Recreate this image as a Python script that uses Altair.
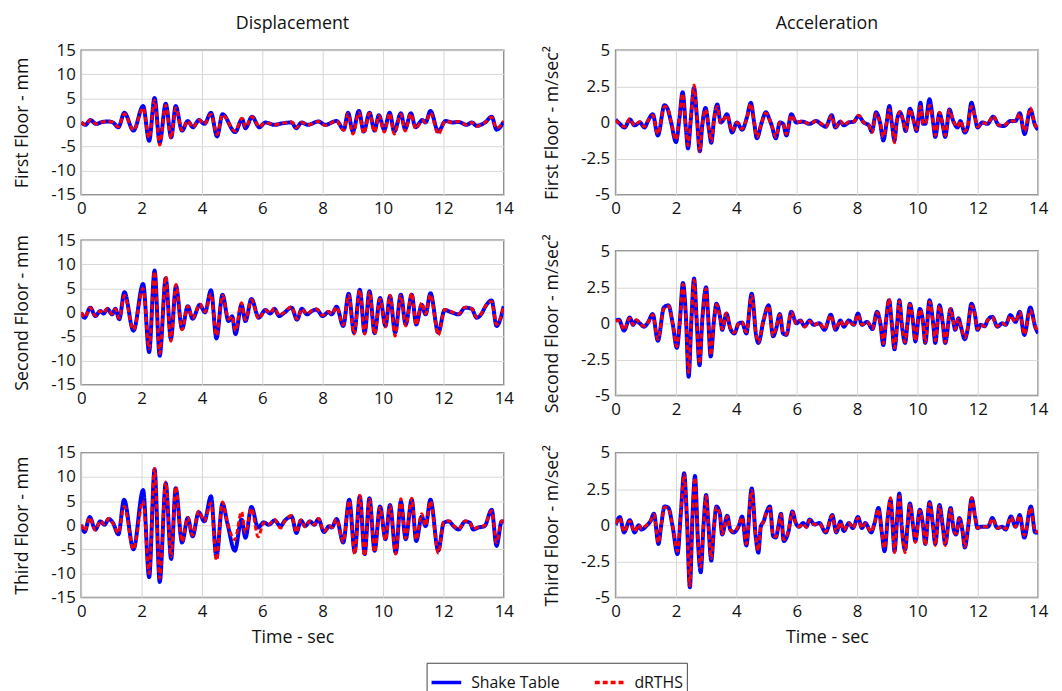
import altair as alt
import pandas as pd

FONT = "Open Sans"
SERIES = ["Shake Table", "dRTHS"]

# ---------------- First floor displacement (mm) ----------------
t_d1 = [0, 0.14, 0.3, 0.5, 0.7, 0.9, 1.05, 1.23, 1.43, 1.73, 2.05, 2.25, 2.43, 2.6, 2.8, 2.98, 3.13, 3.34,
        3.53, 3.7, 3.9, 4.08, 4.3, 4.5, 4.68, 5.1, 5.33, 5.44, 5.66, 5.9, 6.1, 6.4, 6.65, 6.97, 7.12, 7.3,
        7.5, 7.86, 8.08, 8.46, 8.7, 8.84, 9.0, 9.2, 9.36, 9.55, 9.72, 9.86, 10.04, 10.22, 10.37, 10.59,
        10.73, 10.92, 11.08, 11.3, 11.41, 11.57, 11.83, 12.07, 12.3, 12.5, 12.77, 12.94, 13.1, 13.38,
        13.6, 13.76, 14.0]
shake_d1 = [0.0, -0.5, 0.5, -0.3, 0.1, 0.2, 0.0, -1.0, 2.0, -1.7, 3.4, -3.8, 5.1, -4.2, 3.9, -3.1, 3.4, -1.7,
            0.3, -1.0, 0.5, -0.3, 2.0, -2.9, 1.7, -2.0, 0.7, -1.2, 1.2, -1.0, 0.0, -0.5, -0.2, 0.0, -1.2, 0.0,
            -0.5, 0.2, -0.5, 0.3, -1.5, 2.0, -1.9, 2.4, -1.9, 2.0, -1.7, 1.5, -1.5, 2.0, -1.9, 1.9,
            -1.4, 1.9, -1.0, 0.5, 0.0, 2.4, -1.9, 0.3, 0.0, 0.1, -0.5, 0.0, -0.7, 0.0,
            1.2, -1.5, 0.2]
drths_d1 = [0.0, -0.5, 0.5, -0.3, 0.1, 0.2, 0.0, -0.9, 1.8, -1.6, 3.0, -3.2, 4.6, -4.7, 3.6, -3.3, 3.0, -1.6,
            0.3, -1.0, 0.5, -0.3, 1.7, -2.5, 1.6, -1.8, 0.9, -1.0, 1.2, -0.9, 0.0, -0.5, -0.2, 0.1, -1.1, 0.0,
            -0.5, 0.2, -0.6, 0.3, -1.6, 1.8, -2.4, 2.0, -2.3, 1.9, -2.0, 1.4, -2.0, 1.9, -2.4, 1.7,
            -1.8, 1.8, -1.3, 0.4, 0.0, 2.0, -2.4, 0.3, 0.0, 0.2, -0.5, 0.0, -0.8, 0.0,
            1.1, -1.2, 0.3]

# ---------------- First floor acceleration (m/sec^2) ----------------
t_a1 = [0, 0.14, 0.3, 0.47, 0.63, 0.8, 0.96, 1.07, 1.23, 1.4, 1.62, 1.73, 1.84, 2.0, 2.11, 2.22, 2.33, 2.4,
        2.49, 2.6, 2.69, 2.79, 2.87, 2.98, 3.09, 3.17, 3.26, 3.37, 3.48, 3.58, 3.69, 3.86, 4.02, 4.19, 4.35,
        4.48, 4.59, 4.68, 4.84, 4.98, 5.1, 5.17, 5.31, 5.44, 5.55, 5.66, 5.82, 5.99, 6.2, 6.43, 6.64, 6.86,
        6.96, 7.16, 7.28, 7.45, 7.56, 7.73, 7.89, 8.05, 8.22, 8.39, 8.49, 8.63, 8.76, 8.87, 8.98, 9.07,
        9.15, 9.24, 9.31, 9.42, 9.53, 9.61, 9.75, 9.89, 9.97, 10.1, 10.19, 10.26, 10.4, 10.52, 10.59,
        10.73, 10.84, 10.92, 11.06, 11.17, 11.33, 11.42, 11.57, 11.66, 11.79, 11.9, 11.99, 12.15, 12.32,
        12.51, 12.7, 12.86, 13.08, 13.25, 13.39, 13.55, 13.74, 13.9, 14.0]
shake_a1 = [0.2, -0.1, -0.35, 0.2, -0.2, 0.0, -0.35, 0.1, 0.57, -0.9, 1.2, 0.9, 0.0, -1.36, 0.2, 2.1, -0.45, -1.8,
            0.2, 2.4, 0.45, -2.0, -0.2, 1.0, -0.45, -1.4, 0.2, 1.25, 0.0, 0.2, 0.57, -0.7, 0.0, -0.5, 0.35,
            1.36, 0.0, -1.1, 0.0, 0.7, 0.2, -0.2, -1.1, 0.0, -0.1, -0.9, 0.57, 0.0, 0.05, -0.1, 0.1, -0.2,
            -0.3, 0.5, -0.35, 0.05, -0.2, 0.0, 0.05, 0.45, 0.0, -0.2, -0.64, 0.7, 0.0, -1.25, 0.0, 1.14,
            0.0, -1.25, 0.0, 0.7, 0.1, -0.6, 0.95, 0.0, -0.6, 1.36, -0.1, -0.1, 1.6, 0.0, -1.0,
            0.64, -0.2, -1.0, 0.9, 0.2, -0.35, 0.1, -0.7, -0.35, 1.36, 0.45, -0.35, 0.0, -0.1,
            0.4, -0.2, -0.25, 0.1, 0.1, 0.64, -0.8, 0.9, -0.2, -0.5]
drths_a1 = [0.15, -0.1, -0.3, 0.25, -0.2, 0.05, -0.3, 0.1, 0.5, -0.8, 1.1, 0.95, 0.0, -1.2, 0.2, 2.0, -0.4, -1.6,
            0.2, 2.6, 0.4, -2.0, -0.2, 0.9, -0.4, -1.3, 0.2, 1.1, 0.0, 0.2, 0.5, -0.6, 0.0, -0.45, 0.3,
            1.3, 0.0, -1.0, 0.0, 0.65, 0.2, -0.2, -1.0, 0.0, -0.1, -0.8, 0.5, 0.0, 0.1, -0.1, 0.1, -0.15,
            -0.3, 0.45, -0.3, 0.1, -0.2, 0.05, 0.05, 0.5, 0.0, -0.2, -0.7, 0.6, 0.0, -1.0, 0.0, 0.9,
            0.0, -1.4, 0.0, 0.75, 0.1, -0.55, 0.9, 0.0, -0.5, 1.1, -0.1, -0.1, 1.2, 0.0, -0.9,
            0.7, -0.2, -0.9, 0.85, 0.2, -0.3, 0.1, -0.6, -0.3, 1.1, 0.45, -0.3, 0.0, -0.1,
            0.45, -0.2, -0.2, 0.1, 0.1, 0.6, -0.6, 1.0, -0.2, -0.45]

# ---------------- Second floor displacement (mm) ----------------
t_d2 = [0, 0.11, 0.3, 0.47, 0.63, 0.74, 0.87, 1.02, 1.13, 1.26, 1.43, 1.73, 2.05, 2.25, 2.43, 2.6, 2.8, 2.97,
        3.14, 3.34, 3.53, 3.69, 3.93, 4.1, 4.3, 4.48, 4.68, 4.88, 5.0, 5.11, 5.31, 5.44, 5.64, 5.88, 6.1,
        6.26, 6.4, 6.56, 6.7, 6.97, 7.15, 7.31, 7.48, 7.64, 7.8, 8.0, 8.19, 8.3, 8.46, 8.68, 8.86, 9.04,
        9.23, 9.39, 9.55, 9.72, 9.9, 10.08, 10.23, 10.4, 10.59, 10.75, 10.95, 11.1, 11.28, 11.41, 11.57,
        11.83, 12.04, 12.28, 12.5, 12.72, 12.94, 13.1, 13.27, 13.36, 13.6, 13.76, 14.0]
shake_d2 = [0.0, -1.1, 1.0, -0.75, 0.3, -0.2, 0.75, -0.4, 0.75, -1.4, 4.2, -3.8, 5.9, -8.2, 8.7, -9.0, 7.1, -5.5,
            5.5, -3.4, 1.3, -1.3, 1.6, 0.0, 4.6, -5.4, 3.7, -1.8, -0.8, -4.5, 1.6, -1.8, 2.8, -1.1, 0.5,
            -0.2, 0.75, -0.75, -0.2, 1.0, -1.5, 0.75, -0.4, 0.3, 0.6, -0.75, 0.1, -0.4, 1.2, -2.8, 3.9, -4.2,
            4.7, -4.2, 4.4, -4.3, 3.0, -2.8, 3.4, -4.2, 3.7, -2.5, 3.7, -2.5, 1.6, -0.4, 4.0,
            -4.2, 0.5, 0.0, -0.4, 1.0, 0.75, -1.1, -0.2, 0.9, 2.5, -2.8, 1.3]
drths_d2 = [0.0, -1.0, 1.0, -0.7, 0.3, -0.1, 0.8, -0.3, 0.7, -1.2, 3.5, -3.6, 5.0, -7.5, 8.5, -8.5, 7.5, -6.0,
            5.8, -3.6, 1.3, -1.2, 1.7, 0.1, 3.8, -4.8, 3.5, -1.4, -0.8, -3.8, 2.0, -1.5, 2.6, -1.3, 0.5,
            -0.1, 0.9, -0.6, -0.1, 1.2, -1.4, 0.7, -0.3, 0.4, 0.7, -0.6, 0.2, -0.3, 1.1, -2.6, 3.6, -4.5,
            4.6, -4.5, 4.2, -4.5, 2.8, -3.0, 3.6, -4.9, 3.5, -2.8, 4.0, -2.6, 2.0, -0.3, 3.7,
            -4.7, 0.6, 0.1, -0.3, 1.1, 0.8, -1.0, -0.1, 1.0, 2.3, -2.5, 1.4]

# ---------------- Second floor acceleration (m/sec^2) ----------------
t_a2 = [0, 0.11, 0.28, 0.47, 0.58, 0.69, 0.8, 0.94, 1.07, 1.23, 1.4, 1.6, 1.75, 1.89, 2.03, 2.13, 2.23, 2.33,
        2.42, 2.51, 2.6, 2.69, 2.78, 2.87, 3.0, 3.06, 3.15, 3.26, 3.34, 3.48, 3.53, 3.67, 3.8, 3.93, 4.08,
        4.19, 4.33, 4.51, 4.66, 4.73, 4.9, 5.07, 5.22, 5.31, 5.44, 5.55, 5.66, 5.82, 5.99, 6.12, 6.26, 6.43,
        6.56, 6.75, 6.92, 7.13, 7.29, 7.45, 7.56, 7.73, 7.89, 8.03, 8.16, 8.33, 8.51, 8.66, 8.77, 8.87,
        8.95, 9.06, 9.15, 9.24, 9.33, 9.4, 9.48, 9.59, 9.67, 9.75, 9.86, 9.93, 10.08, 10.19, 10.26, 10.4,
        10.52, 10.59, 10.73, 10.84, 10.92, 11.1, 11.2, 11.25, 11.36, 11.44, 11.57, 11.66, 11.79, 11.9,
        11.99, 12.1, 12.23, 12.32, 12.48, 12.65, 12.81, 12.92, 13.08, 13.25, 13.39, 13.54, 13.74, 13.9, 14.0]
shake_a2 = [0.2, 0.25, -0.5, 0.4, -0.1, 0.2, 0.0, -0.23, 0.05, 0.64, -1.2, 1.1, 1.25, 0.0, -1.7, 0.2, 2.8, 0.45,
            -3.7, 0.2, 3.1, 0.0, -2.9, 0.2, 2.5, 0.7, -2.3, 0.2, 1.36, 0.2, -0.45, 0.68, -0.35, -0.7, 0.0,
            0.05, -0.7, 2.05, -0.9, -1.36, 0.2, 1.25, -0.9, -0.45, 0.64, -0.7, -0.8, 0.8, 0.0, 0.2, -0.2, 0.2,
            -0.1, 0.0, -0.45, 0.6, -0.45, 0.2, -0.23, 0.2, -0.1, 0.68, -0.1, 0.1, -0.4, 0.8, 0.0, -1.5,
            0.0, 1.6, 0.0, -1.8, 0.0, 1.6, 0.0, -1.36, 0.0, 1.36, 0.0, -1.25, 1.0, 0.0, -1.36, 1.6,
            0.0, -1.36, 1.25, 0.0, -1.36, 1.0, 0.0, -0.45, 0.35, -0.23, -1.1, -0.45, 1.36, 0.68,
            -0.45, -0.1, -0.2, 0.2, 0.45, -0.23, 0.0, -0.1, 0.57, 0.1, 0.8, -0.8, 1.1, -0.23, -0.7]
drths_a2 = [0.15, 0.2, -0.45, 0.35, -0.1, 0.25, 0.0, -0.2, 0.05, 0.6, -1.1, 1.0, 1.2, 0.0, -1.6, 0.2, 2.7, 0.4,
            -3.4, 0.2, 3.0, 0.0, -2.8, 0.2, 2.4, 0.7, -2.2, 0.2, 1.3, 0.2, -0.4, 0.7, -0.3, -0.65, 0.0,
            0.1, -0.6, 1.9, -0.85, -1.3, 0.2, 1.2, -0.85, -0.4, 0.6, -0.65, -0.75, 0.75, 0.0, 0.2, -0.25, 0.15,
            -0.15, 0.05, -0.4, 0.55, -0.4, 0.2, -0.2, 0.15, -0.1, 0.6, -0.1, 0.1, -0.35, 0.75, 0.0, -1.4,
            0.0, 1.7, 0.0, -1.7, 0.0, 1.55, 0.0, -1.3, 0.0, 1.3, 0.0, -1.2, 0.95, 0.0, -1.3, 1.5,
            0.0, -1.2, 1.2, 0.0, -1.3, 1.0, 0.0, -0.4, 0.3, -0.2, -1.0, -0.4, 1.2, 0.6,
            -0.4, -0.1, -0.2, 0.2, 0.4, -0.2, 0.0, -0.1, 0.5, 0.1, 0.75, -0.75, 0.9, -0.2, -0.65]

# ---------------- Third floor displacement (mm) ----------------
t_d3 = [0, 0.11, 0.28, 0.47, 0.63, 0.77, 0.91, 1.05, 1.23, 1.42, 1.73, 2.05, 2.25, 2.43, 2.6, 2.8, 2.98, 3.13,
        3.34, 3.53, 3.69, 3.89, 4.08, 4.3, 4.48, 4.68, 4.84, 5.09, 5.31, 5.44, 5.64, 5.86, 6.05, 6.21, 6.41,
        6.6, 6.75, 6.97, 7.13, 7.28, 7.42, 7.58, 7.72, 7.86, 8.04, 8.22, 8.3, 8.46, 8.68, 8.88, 9.06, 9.23,
        9.39, 9.55, 9.72, 9.9, 10.08, 10.23, 10.42, 10.59, 10.75, 10.95, 11.1, 11.28, 11.41, 11.57, 11.83,
        12.01, 12.18, 12.34, 12.5, 12.72, 12.88, 12.99, 13.15, 13.36, 13.6, 13.76, 13.93, 14.0]
shake_d3 = [0.1, -1.4, 1.7, -0.9, 0.8, 0.1, 1.3, 0.5, -1.9, 5.3, -5.0, 7.3, -10.8, 11.6, -11.8, 8.7, -7.0, 7.7,
            -3.6, 1.5, -2.3, 2.7, 0.8, 6.0, -6.7, 4.5, 0.5, -5.3, 1.2, -2.6, 3.8, -0.5, 0.6, 0.1, 1.0,
            -0.2, 1.0, 1.8, -1.6, 1.0, -0.2, 0.8, 0.1, 1.3, -1.4, -0.2, -0.5, 1.3, -3.6, 5.3, -5.5, 6.0,
            -6.0, 5.6, -5.3, 3.9, -2.9, 4.2, -5.7, 4.9, -2.9, 5.3, -3.3, 1.8, -0.2, 5.3, -5.3,
            0.5, 0.8, -0.2, -0.9, 0.8, 0.5, -0.9, -0.5, -0.2, 3.2, -4.3, 0.8, 0.8]
drths_d3 = [0.1, -1.2, 1.6, -1.0, 0.9, 0.2, 1.4, 0.4, -1.6, 3.9, -5.0, 5.0, -10.0, 11.8, -11.0, 9.0, -6.5, 8.0,
            -3.4, 1.6, -2.1, 2.9, 0.9, 4.6, -7.3, 4.8, 0.6, -3.0, 2.8, -1.5, 3.5, -2.4, 0.5, 0.2, 1.2,
            -0.6, 0.9, 2.0, -1.5, 1.1, -0.3, 0.9, 0.1, 1.4, -1.3, -0.1, -0.5, 1.2, -3.4, 5.1, -6.0, 6.2,
            -6.4, 5.4, -5.6, 3.7, -3.1, 4.0, -6.0, 5.5, -2.7, 5.6, -3.0, 2.4, -0.1, 5.0, -5.8,
            0.7, 0.9, -0.1, -0.8, 0.9, 0.6, -0.8, -0.4, -0.1, 3.0, -3.6, 0.9, 0.9]

# ---------------- Third floor acceleration (m/sec^2) ----------------
t_a3 = [0, 0.14, 0.28, 0.47, 0.63, 0.77, 0.85, 1.02, 1.16, 1.27, 1.42, 1.51, 1.62, 1.75, 1.89, 2.05, 2.16, 2.27,
        2.36, 2.46, 2.55, 2.63, 2.73, 2.82, 2.91, 3.0, 3.07, 3.17, 3.26, 3.34, 3.45, 3.53, 3.7, 3.8, 3.91,
        4.08, 4.19, 4.33, 4.51, 4.64, 4.73, 4.81, 4.9, 5.0, 5.11, 5.22, 5.31, 5.39, 5.48, 5.57, 5.72, 5.86,
        5.97, 6.08, 6.21, 6.32, 6.43, 6.59, 6.75, 6.96, 7.18, 7.31, 7.45, 7.56, 7.73, 7.86, 8.03, 8.16,
        8.27, 8.47, 8.58, 8.71, 8.82, 8.91, 9.02, 9.11, 9.18, 9.24, 9.33, 9.4, 9.48, 9.59, 9.67, 9.75,
        9.86, 9.93, 10.08, 10.19, 10.26, 10.4, 10.52, 10.59, 10.73, 10.84, 10.92, 11.1, 11.2, 11.28, 11.39,
        11.5, 11.57, 11.68, 11.8, 11.91, 11.99, 12.1, 12.23, 12.34, 12.48, 12.65, 12.81, 12.92, 13.1, 13.25,
        13.39, 13.54, 13.76, 13.9, 14.0]
shake_a3 = [0.0, 0.57, -0.5, 0.35, -0.5, 0.0, -0.3, -0.05, 0.3, 0.8, -1.3, 0.0, 1.3, 1.2, -0.1, -2.0, 0.8, 3.6,
            0.6, -4.3, 0.8, 3.4, -1.2, -3.25, -0.1, 2.1, 0.15, -2.45, -0.1, 1.3, 0.85, -0.64, 0.66, -0.3, -0.5,
            -0.05, 0.6, -1.4, 2.55, -0.75, -1.9, -0.1, 0.25, 0.9, 1.3, -0.75, -0.86, -0.1, 0.8, -1.1, -0.5, 0.95,
            0.15, -0.1, 0.15, -0.1, 0.4, 0.05, 0.15, -0.5, 0.7, -0.5, 0.25, -0.4, 0.15, -0.2, 0.57, -0.2,
            0.15, -0.5, 0.15, 1.2, -0.5, -1.8, 0.6, 1.75, -0.1, -1.8, 0.6, 2.2, -0.1, -1.7, -0.1, 1.5,
            -0.1, -1.1, 1.07, -0.1, -1.3, 1.6, -0.1, -1.3, 1.4, -0.1, -1.3, 1.2, -0.3, -0.64, 0.5,
            -0.5, -1.55, -0.1, 1.86, 0.6, -0.2, -0.1, -0.1, -0.1, 0.5, -0.2, -0.1, -0.3, 0.6, -0.1,
            0.7, -0.86, 1.3, -0.5, -0.5]
drths_a3 = [0.1, 0.5, -0.45, 0.3, -0.45, 0.05, -0.25, 0.0, 0.3, 0.75, -1.2, 0.0, 1.25, 1.15, -0.1, -1.8, 0.8, 3.5,
            0.6, -4.2, 0.8, 3.3, -1.1, -2.9, -0.1, 2.0, 0.15, -2.3, -0.1, 1.25, 0.8, -0.6, 0.6, -0.3, -0.45,
            0.0, 0.55, -1.3, 2.4, -0.7, -1.75, -0.1, 0.25, 0.85, 1.2, -0.7, -0.8, -0.1, 0.75, -1.0, -0.45, 0.9,
            0.15, -0.1, 0.1, -0.15, 0.35, 0.05, 0.1, -0.45, 0.65, -0.45, 0.2, -0.35, 0.15, -0.2, 0.5, -0.2,
            0.1, -0.45, 0.15, 1.1, -0.5, -1.6, 0.6, 1.9, -0.1, -1.9, 0.6, 2.0, -0.1, -1.9, -0.1, 1.4,
            -0.1, -1.2, 1.0, -0.1, -1.4, 1.5, -0.1, -1.4, 1.3, -0.1, -1.4, 1.1, -0.3, -0.6, 0.45,
            -0.45, -1.5, -0.1, 1.9, 0.55, -0.2, -0.1, -0.1, -0.1, 0.45, -0.2, -0.1, -0.25, 0.55, -0.1,
            0.65, -0.7, 1.2, -0.45, -0.45]

X_TICKS = [0, 2, 4, 6, 8, 10, 12, 14]
DISP_TICKS = [-15, -10, -5, 0, 5, 10, 15]
ACC_TICKS = [-5, -2.5, 0, 2.5, 5]

W, H = 427, 146

legend = alt.Legend(
    title=None, orient="none", legendX=349, legendY=619, direction="horizontal",
    symbolType="stroke", symbolSize=900, symbolStrokeWidth=3.5,
    labelFont=FONT, labelFontSize=16, labelColor="#111", labelOffset=8,
    strokeColor="#444", padding=3, columnPadding=28,
)


def panel(t, shake, drths, ydom, yticks, ytitle, title=None, xtitle=None):
    df = pd.DataFrame({
        "t": list(t) + list(t),
        "v": list(shake) + list(drths),
        "series": [SERIES[0]] * len(t) + [SERIES[1]] * len(t),
    })
    base = alt.Chart(df).encode(
        x=alt.X("t:Q", scale=alt.Scale(domain=[0, 14], nice=False, zero=False),
                axis=alt.Axis(values=X_TICKS, title=xtitle if xtitle else None)),
        y=alt.Y("v:Q", scale=alt.Scale(domain=ydom, nice=False, zero=False),
                axis=alt.Axis(values=yticks, title=ytitle, labelExpr="'' + datum.value")),
        color=alt.Color("series:N", scale=alt.Scale(domain=SERIES, range=["#0000ff", "#ff0000"]),
                        legend=legend),
        strokeDash=alt.StrokeDash("series:N", scale=alt.Scale(domain=SERIES, range=[[1, 0], [5, 3]]),
                                  legend=legend),
    )
    blue = base.transform_filter(alt.datum.series == SERIES[0]).mark_line(
        strokeWidth=4, interpolate="monotone", clip=True)
    red = base.transform_filter(alt.datum.series == SERIES[1]).mark_line(
        strokeWidth=3, interpolate="monotone", clip=True)
    ch = alt.layer(blue, red).properties(width=W, height=H)
    if title:
        ch = ch.properties(title=alt.TitleParams(title, font=FONT, fontSize=18, fontWeight="normal",
                                                 anchor="middle", offset=8, color="#111"))
    return ch


d1 = panel(t_d1, shake_d1, drths_d1, [-15, 15], DISP_TICKS, "First Floor - mm", title="Displacement")
d2 = panel(t_d2, shake_d2, drths_d2, [-15, 15], DISP_TICKS, "Second Floor - mm")
d3 = panel(t_d3, shake_d3, drths_d3, [-15, 15], DISP_TICKS, "Third Floor - mm", xtitle="Time - sec")
a1 = panel(t_a1, shake_a1, drths_a1, [-5, 5], ACC_TICKS, "First Floor - m/sec²", title="Acceleration")
a2 = panel(t_a2, shake_a2, drths_a2, [-5, 5], ACC_TICKS, "Second Floor - m/sec²")
a3 = panel(t_a3, shake_a3, drths_a3, [-5, 5], ACC_TICKS, "Third Floor - m/sec²", xtitle="Time - sec")

left = alt.vconcat(d1, alt.vconcat(d2, d3, spacing=36), spacing=13)
right = alt.vconcat(a1, alt.vconcat(a2, a3, spacing=25), spacing=15)

chart = alt.hconcat(left, right, spacing=28).properties(
    padding={"left": 5, "top": 3, "right": 5, "bottom": 5}
).configure_view(
    stroke="#777", strokeWidth=1.5
).configure_axis(
    grid=True, gridColor="#d8d8d8", gridWidth=1,
    domain=False, ticks=False,
    labelFont=FONT, labelFontSize=17, labelColor="#111", labelPadding=6,
    titleFont=FONT, titleFontSize=18, titleFontWeight="normal", titleColor="#111",
).configure_axisY(
    titlePadding=19,
).configure_axisX(
    labelPadding=6, titlePadding=10, labelFlush=False,
)

chart.save("out.html", embed_options={"renderer": "svg", "actions": False})
